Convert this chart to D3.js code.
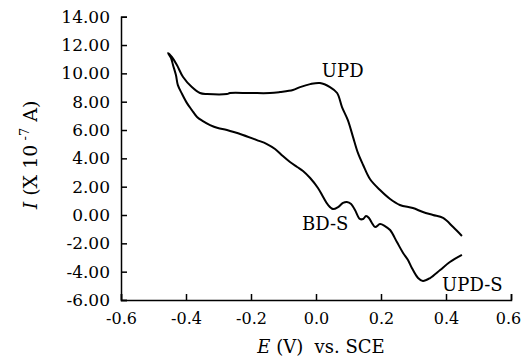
<html>
<head>
<title> CV curve </title>
<script src="https://d3js.org/d3.v7.min.js"></script>
<style>
body { margin: 0; background: #fff; }
svg text { font-family: "DejaVu Serif", serif; fill: #000; }
.axis path, .axis line { stroke: #000; stroke-width: 1.5; }
.curve { fill: none; stroke: #000; stroke-width: 2; stroke-linejoin: round; }
</style>
</head>
<body>
<script>

// forward scan (upper branch), read right to left from the picture
var upperE = [0.449, 0.422, 0.391, 0.360, 0.329, 0.298, 0.258, 0.228, 0.197, 0.166,
              0.145, 0.129, 0.114, 0.098, 0.080, 0.065, 0.043, 0.012, -0.018, -0.049,
              -0.071, -0.111, -0.142, -0.203, -0.265, -0.274, -0.335, -0.357, -0.382,
              -0.409, -0.428, -0.443, -0.455];
var upperI = [-1.48, -0.85, -0.21, 0.00, 0.21, 0.49, 0.71, 1.13, 1.76, 2.54,
              3.53, 4.38, 5.50, 6.70, 7.62, 8.61, 9.03, 9.32, 9.24, 9.03,
              8.82, 8.68, 8.61, 8.61, 8.61, 8.54, 8.54, 8.61, 9.03,
              9.74, 10.59, 11.15, 11.43];

// return scan (lower branch), from the top left corner down to the right
var lowerE = [-0.455, -0.446, -0.440, -0.431, -0.425, -0.412, -0.397, -0.382, -0.366,
              -0.348, -0.326, -0.302, -0.274, -0.225, -0.182, -0.151, -0.126, -0.102,
              -0.080, -0.058, -0.040, -0.018, 0.006, 0.022, 0.037, 0.052, 0.068, 0.083,
              0.095, 0.108, 0.120, 0.135, 0.145, 0.154, 0.163, 0.172, 0.182, 0.197,
              0.212, 0.228, 0.249, 0.268, 0.283, 0.295, 0.314, 0.329, 0.351, 0.382,
              0.412, 0.449];
var lowerI = [11.43, 11.08, 10.59, 9.88, 9.17, 8.54, 7.90, 7.41, 6.92,
              6.63, 6.35, 6.14, 6.00, 5.65, 5.29, 5.01, 4.66, 4.16,
              3.74, 3.39, 3.11, 2.61, 1.91, 1.27, 0.71, 0.42, 0.56, 0.85,
              0.92, 0.78, 0.35, -0.28, -0.28, -0.07, -0.21, -0.56, -0.85, -0.64,
              -0.78, -1.06, -1.91, -2.68, -3.18, -3.74, -4.45, -4.66, -4.45, -3.88,
              -3.32, -2.82];

var xTicks = [-0.6, -0.4, -0.2, 0.0, 0.2, 0.4, 0.6];
var yTicks = [-6, -4, -2, 0, 2, 4, 6, 8, 10, 12, 14];

var peakLabels = ["UPD", "BD-S", "UPD-S"];
var peakE = [0.018, -0.043, 0.388];
var peakI = [9.75, -1.06, -5.36];

var width = 522, height = 356;

var x = d3.scaleLinear().domain([-0.6, 0.6]).range([121, 511]);
var y = d3.scaleLinear().domain([-6, 14]).range([300, 16.7]);

var svg = d3.select("body").append("svg")
    .attr("width", width)
    .attr("height", height);

// axes, ticks point inward
var gx = svg.append("g")
    .attr("class", "axis")
    .attr("transform", "translate(0,300)")
    .call(d3.axisBottom(x).tickValues(xTicks).tickSize(-6).tickPadding(13)
        .tickFormat(function(d) { return d.toFixed(1); }));
gx.attr("font-family", null).attr("font-size", 16);
// last label would run off the right edge
gx.selectAll(".tick text").filter(function(d) { return d === 0.6; }).attr("dx", -3);

var gy = svg.append("g")
    .attr("class", "axis")
    .attr("transform", "translate(121,0)")
    .call(d3.axisLeft(y).tickValues(yTicks).tickSize(-6).tickPadding(11)
        .tickFormat(function(d) { return d.toFixed(2); }));
gy.attr("font-family", null).attr("font-size", 17);

svg.selectAll(".axis .domain").attr("fill", "none");

// curve
var upper = upperE.map(function(e, i) { return [e, upperI[i]]; });
var lower = lowerE.map(function(e, i) { return [e, lowerI[i]]; });
var line = d3.line()
    .x(function(d) { return x(d[0]); })
    .y(function(d) { return y(d[1]); })
    .curve(d3.curveCatmullRom);

svg.append("path").attr("class", "curve").attr("d", line(upper.concat(lower.slice(1))));

// peak labels
svg.selectAll(".peak")
    .data(peakLabels)
  .enter().append("text")
    .attr("class", "peak")
    .attr("x", function(d, i) { return x(peakE[i]); })
    .attr("y", function(d, i) { return y(peakI[i]); })
    .attr("font-size", "18px")
    .text(function(d) { return d; });

// x title
var xt = svg.append("text")
    .attr("x", 321)
    .attr("y", 353)
    .attr("text-anchor", "middle")
    .attr("font-size", "18px")
    .style("white-space", "pre");
xt.append("tspan").attr("font-style", "italic").text("E");
xt.append("tspan").text(" (V)  vs. SCE");

// y title
var yt = svg.append("text")
    .attr("transform", "translate(37,155) rotate(-90)")
    .attr("text-anchor", "middle")
    .attr("font-size", "19px")
    .style("white-space", "pre");
yt.append("tspan").attr("font-style", "italic").text("I");
yt.append("tspan").text(" (X 10");
yt.append("tspan").attr("font-size", "13px").attr("dy", -8).text(" -7");
yt.append("tspan").attr("dy", 8).text(" A)");

</script>
</body>
</html>
